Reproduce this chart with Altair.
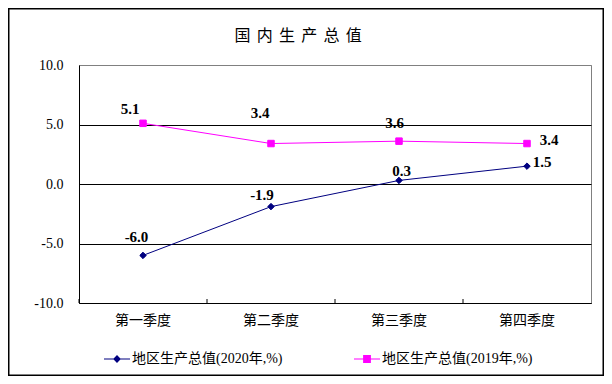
import altair as alt
import pandas as pd

# ---- data ----
quarters = ["第一季度", "第二季度", "第三季度", "第四季度"]
series_names = ["地区生产总值(2020年,%)", "地区生产总值(2019年,%)"]
values_2020 = [-6.0, -1.9, 0.3, 1.5]
values_2019 = [5.1, 3.4, 3.6, 3.4]
y_ticks = [-10, -5, 0, 5, 10]
title_text = "国内生产总值"

# ---- styling (label offsets in pixels, colors, shapes) ----
label_dx_2020 = [-6.5, -9, 2.5, 15]
label_dy_2020 = [-18, -12, -9.5, -4.5]
label_dx_2019 = [-13, -11, -4.5, 22]
label_dy_2019 = [-14, -31, -18, -4]
colors = ["#000080", "#FF00FF"]
marker_shapes = ["diamond", "square"]
legend_paths = [
    "M-1,-0.04H1V0.04H-1Z M0,-0.3L0.3,0L0,0.3L-0.3,0Z",
    "M-1,-0.04H1V0.04H-1Z M-0.3,-0.3H0.3V0.3H-0.3Z",
]
cjk_serif = "Liberation Serif, Noto Sans CJK SC"

rows = []
for s, vals, dxs, dys in [
    (series_names[0], values_2020, label_dx_2020, label_dy_2020),
    (series_names[1], values_2019, label_dx_2019, label_dy_2019),
]:
    for q, v, dx, dy in zip(quarters, vals, dxs, dys):
        rows.append({"series": s, "quarter": q, "value": v,
                     "label": f"{v:.1f}", "dx": dx, "dy": dy})
df = pd.DataFrame(rows)

x_enc = alt.X(
    "quarter:N", sort=quarters,
    scale=alt.Scale(domain=quarters, paddingInner=0, paddingOuter=0),
    axis=alt.Axis(title=None, labelAngle=0, ticks=False, grid=False,
                  domainColor="black", domainWidth=1,
                  labelFont="Noto Sans CJK SC", labelFontSize=14,
                  labelColor="black", labelPadding=10),
)
y_enc = alt.Y(
    "value:Q",
    scale=alt.Scale(domain=[-10, 10], nice=False, zero=False),
    axis=alt.Axis(title=None, values=y_ticks, ticks=False, grid=True,
                  labelExpr="replace(format(datum.value, '.1f'), '\u2212', '-')",
                  domainColor="black", domainWidth=1,
                  gridColor={"condition": {"test": "datum.value === 10", "value": "#808080"},
                             "value": "black"},
                  gridWidth=1, gridOpacity=1,
                  labelFont="Liberation Serif", labelFontSize=14,
                  labelColor="black", labelPadding=16),
)
color_scale = alt.Scale(domain=series_names, range=colors)

base = alt.Chart(df)

line_layers = []
point_layers = []
for s, c, shp in zip(series_names, colors, marker_shapes):
    line_layers.append(
        base.mark_line(strokeWidth=1, color=c)
        .encode(x=x_enc, y=y_enc)
        .transform_filter(alt.datum.series == s)
    )
    point_layers.append(
        base.mark_point(filled=True, shape=shp, size=42, color=c, stroke=c,
                        strokeWidth=1, opacity=1)
        .encode(x=x_enc, y=y_enc)
        .transform_filter(alt.datum.series == s)
    )

labels = base.mark_text(
    font="Liberation Serif", fontWeight="bold", fontSize=15, color="black",
    align="center", baseline="middle",
    dx={"expr": "datum.dx"}, dy={"expr": "datum.dy"},
).encode(x=x_enc, y=y_enc, text="label:N")

ticks = alt.Chart(pd.DataFrame({"quarter": quarters})).mark_rule(
    color="black", strokeWidth=1, xOffset=-64, x2Offset=-64, y2Offset=-4
).encode(
    x=alt.X("quarter:N", sort=quarters),
    y=alt.datum(-10), y2=alt.datum(-10),
)

legend_def = alt.Legend(
    title=None, orient="none", legendX=25, legendY=281, direction="horizontal",
    labelFont=cjk_serif, labelFontSize=14, labelColor="black",
    labelOffset=2, columnPadding=71, symbolSize=676, symbolOpacity=1,
    symbolStrokeWidth=0,
)
legend_layer = base.mark_point(filled=True, opacity=0).encode(
    x=x_enc, y=y_enc,
    color=alt.Color("series:N", scale=color_scale, legend=legend_def),
    shape=alt.Shape("series:N", scale=alt.Scale(domain=series_names, range=legend_paths),
                    legend=legend_def),
)

border = alt.Chart(pd.DataFrame({"k": [0]})).mark_rect(
    fill=None, stroke="black", strokeWidth=1.5
).encode(
    x=alt.value(-70.25), x2=alt.value(524.25),
    y=alt.value(-56.25), y2=alt.value(310.25),
)

chart = alt.layer(*line_layers, *point_layers, labels, ticks, legend_layer, border).properties(
    width=512, height=238,
    padding={"left": 71, "top": 57, "right": 13, "bottom": 73},
    autosize=alt.AutoSizeParams(type="none"),
    background="white",
    title=alt.Title(" \u2006".join(title_text), font="Noto Sans CJK SC", fontSize=16,
                    fontWeight="normal", color="black", anchor="middle",
                    dx=-37, offset=-36),
).configure_view(stroke="#808080", strokeWidth=1)

chart.save("out.html", embed_options={"renderer": "svg", "actions": False})
